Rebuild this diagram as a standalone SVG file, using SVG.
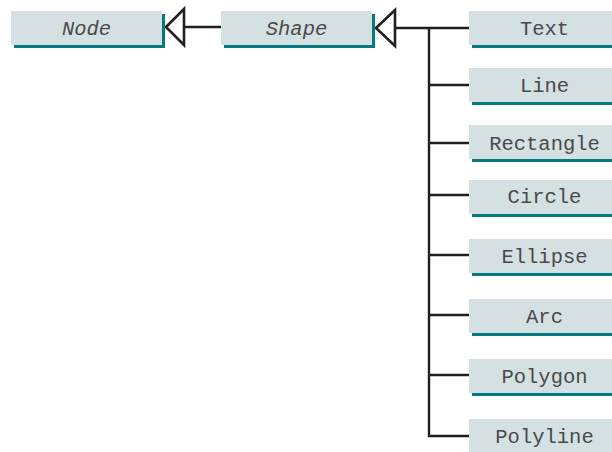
<svg xmlns="http://www.w3.org/2000/svg" width="612" height="452" viewBox="0 0 612 452">
<style>
.box{fill:#d5e0e3}
.sh{fill:#047a80}
.t{font-family:"Liberation Mono","DejaVu Sans Mono",monospace;font-size:20.5px;fill:#4a4a4a;text-anchor:middle}
.i{font-style:italic}
.ln{stroke:#231f20;stroke-width:2.4;fill:none}
.tri{stroke:#231f20;stroke-width:2.6;fill:#ffffff;stroke-linejoin:miter}
</style>
<rect width="612" height="452" fill="#ffffff"/>
<g id="connectors">
<path class="ln" d="M184 27 H221"/>
<path class="ln" d="M395 28 H469"/>
<path class="ln" d="M429 28 V436 H469"/>
<path class="ln" d="M429 85 H469 M429 143 H469 M429 195 H469 M429 255 H469 M429 315 H469 M429 375 H469"/>
<polygon class="tri" points="166,27 184,9 184,45"/>
<polygon class="tri" points="376,28 395,10 395,46"/>
</g>
<g id="node-Node"><rect class="sh" x="14" y="14" width="151" height="34"/><rect class="box" x="11" y="11" width="151" height="34"/><text class="t i" x="86.5" y="35">Node</text></g>
<g id="node-Shape"><rect class="sh" x="224" y="14" width="151" height="34"/><rect class="box" x="221" y="11" width="151" height="34"/><text class="t i" x="296.5" y="35">Shape</text></g>
<g id="node-Text"><rect class="sh" x="472" y="14" width="151" height="34"/><rect class="box" x="469" y="11" width="151" height="34"/><text class="t" x="544.5" y="35">Text</text></g>
<g id="node-Line"><rect class="sh" x="472" y="71" width="151" height="34"/><rect class="box" x="469" y="68" width="151" height="34"/><text class="t" x="544.5" y="92">Line</text></g>
<g id="node-Rectangle"><rect class="sh" x="472" y="128" width="151" height="34"/><rect class="box" x="469" y="125" width="151" height="34"/><text class="t" x="544.5" y="150">Rectangle</text></g>
<g id="node-Circle"><rect class="sh" x="472" y="183" width="151" height="34"/><rect class="box" x="469" y="180" width="151" height="34"/><text class="t" x="544.5" y="203">Circle</text></g>
<g id="node-Ellipse"><rect class="sh" x="472" y="242" width="151" height="34"/><rect class="box" x="469" y="239" width="151" height="34"/><text class="t" x="544.5" y="263">Ellipse</text></g>
<g id="node-Arc"><rect class="sh" x="472" y="302" width="151" height="34"/><rect class="box" x="469" y="299" width="151" height="34"/><text class="t" x="544.5" y="323">Arc</text></g>
<g id="node-Polygon"><rect class="sh" x="472" y="362" width="151" height="34"/><rect class="box" x="469" y="359" width="151" height="34"/><text class="t" x="544.5" y="383">Polygon</text></g>
<g id="node-Polyline"><rect class="sh" x="472" y="422" width="151" height="34"/><rect class="box" x="469" y="419" width="151" height="34"/><text class="t" x="544.5" y="443">Polyline</text></g>
</svg>
